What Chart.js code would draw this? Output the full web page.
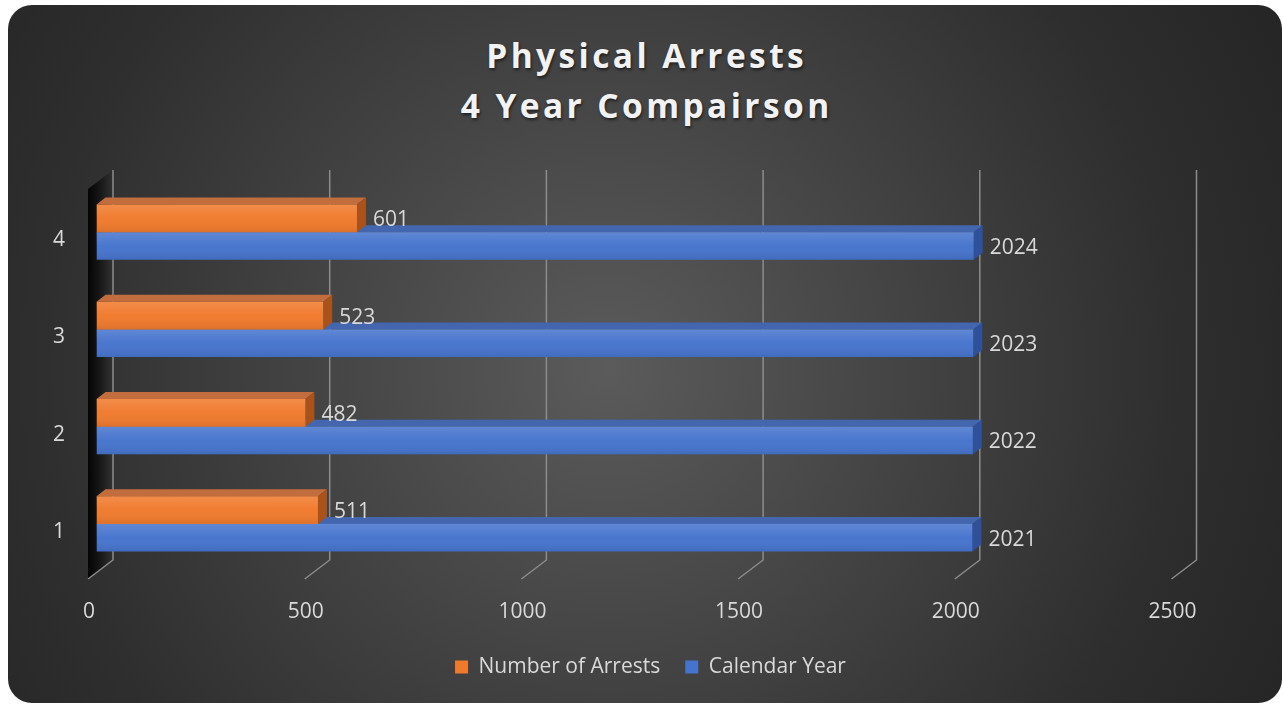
<!DOCTYPE html>
<html>
<head>
<meta charset="utf-8">
<title>Physical Arrests</title>
<script src="https://cdn.jsdelivr.net/npm/chart.js@4.4.1/dist/chart.umd.min.js"></script>
<style>
  html, body { margin: 0; padding: 0; background: #ffffff; }
  #card {
    position: absolute; left: 8px; top: 5px; width: 1274px; height: 698px;
    border-radius: 24px; overflow: hidden;
    background: radial-gradient(circle farthest-corner at 47% 52%, #5b5b5b 0%, #434343 40%, #2e2e2e 75%, #252525 100%);
  }
  #title {
    position: absolute; left: 0; top: 25px; width: 100%;
    text-align: center; padding-left: 3.4px; box-sizing: border-box;
    font-family: 'Open Sans', sans-serif; font-weight: 700; font-size: 33.5px;
    letter-spacing: 3.4px; line-height: 50px; color: #f2f2f2;
    text-shadow: 1px 2px 3px rgba(0, 0, 0, 0.55);
  }
  #chart { position: absolute; left: 0; top: 0; }
</style>
</head>
<body>
<div id="card">
  <div id="title">Physical Arrests<br>4 Year Compairson</div>
  <canvas id="chart" width="1274" height="698"></canvas>
</div>
<script>
// values
const categories = ['1', '2', '3', '4'];
const arrests = [511, 482, 523, 601];
const calendarYears = [2021, 2022, 2023, 2024];
const xMin = 0;
const xMax = 2500;
const xStep = 500;

const seriesNames = ['Number of Arrests', 'Calendar Year'];

// 3d look
const DX = 9, DY = 7;
const faceColors = [
    { top: '#c26d3e', side: '#a9521b' },
    { top: '#4466ae', side: '#2f509b' },
];
const textColor = '#d9d9d9';
const fontSize = 21;

Chart.defaults.font.family = "'Open Sans', sans-serif";
Chart.defaults.font.size = fontSize;
Chart.defaults.color = textColor;

// back wall, grid lines and bar tops/sides, drawn under the bar fronts
const depthPlugin = {
    id: 'depth',
    beforeDatasetsDraw(chart) {
        const { ctx, chartArea: area, scales } = chart;
        const x = scales.x;
        const left = x.getPixelForValue(xMin);
        const backTop = area.top - 13.5;
        const backBottom = area.bottom - 12.5;
        const frontBottom = area.bottom + 6.5;

        ctx.save();
        // left wall
        const wall = ctx.createLinearGradient(left - 8.5, 0, left + 16.5, 0);
        wall.addColorStop(0, 'rgba(0,0,0,0.9)');
        wall.addColorStop(0.45, 'rgba(0,0,0,0.55)');
        wall.addColorStop(1, 'rgba(0,0,0,0)');
        ctx.fillStyle = wall;
        ctx.beginPath();
        ctx.moveTo(left - 8.5, backTop + 19);
        ctx.lineTo(left + 16.5, backTop);
        ctx.lineTo(left + 16.5, backBottom);
        ctx.lineTo(left - 8.5, frontBottom);
        ctx.closePath();
        ctx.fill();

        // grid lines on the back wall and floor
        ctx.strokeStyle = '#8c8c8c';
        ctx.lineWidth = 1.5;
        x.ticks.forEach(t => {
            const px = x.getPixelForValue(t.value);
            ctx.beginPath();
            ctx.moveTo(px + 16.5, backTop);
            ctx.lineTo(px + 16.5, backBottom);
            ctx.lineTo(px - 8.5, frontBottom);
            ctx.stroke();
        });

        // tops and sides, blue first so the orange sits over it
        for (let d = chart.data.datasets.length - 1; d >= 0; d--) {
            const meta = chart.getDatasetMeta(d);
            meta.data.forEach(el => {
                const { x: end, y, base, height } = el.getProps(['x', 'y', 'base', 'height'], true);
                const t = y - height / 2, b = y + height / 2;
                ctx.fillStyle = faceColors[d].top;
                ctx.beginPath();
                ctx.moveTo(base, t);
                ctx.lineTo(base + DX, t - DY);
                ctx.lineTo(end + DX, t - DY);
                ctx.lineTo(end, t);
                ctx.closePath();
                ctx.fill();
                ctx.fillStyle = faceColors[d].side;
                ctx.beginPath();
                ctx.moveTo(end, t);
                ctx.lineTo(end + DX, t - DY);
                ctx.lineTo(end + DX, b - DY);
                ctx.lineTo(end, b);
                ctx.closePath();
                ctx.fill();
            });
        }
        ctx.restore();
    },
    afterDatasetsDraw(chart) {
        const { ctx } = chart;
        ctx.save();
        chart.data.datasets.forEach((ds, d) => {
            const meta = chart.getDatasetMeta(d);
            meta.data.forEach((el, i) => {
                const { x: end, y, base, height } = el.getProps(['x', 'y', 'base', 'height'], true);
                const t = y - height / 2;
                // soft shine on the front face
                const g = ctx.createLinearGradient(0, t, 0, t + height);
                g.addColorStop(0, 'rgba(255,255,255,0.14)');
                g.addColorStop(0.5, 'rgba(255,255,255,0.02)');
                g.addColorStop(1, 'rgba(0,0,0,0.08)');
                ctx.fillStyle = g;
                ctx.fillRect(base, t, end - base, height);
                // value label
                ctx.fillStyle = textColor;
                ctx.font = fontSize + "px 'Open Sans', sans-serif";
                ctx.textAlign = 'left';
                ctx.textBaseline = 'middle';
                ctx.fillText(String(ds.data[i]), end + 16, y + 2);
            });
        });
        ctx.restore();
    }
};

new Chart(document.getElementById('chart'), {
    type: 'bar',
    data: {
        labels: categories,
        datasets: [
            {
                label: seriesNames[0],
                data: arrests,
                backgroundColor: '#f07a2c',
                borderWidth: 0,
                barPercentage: 1,
                categoryPercentage: 0.5656,
            },
            {
                label: seriesNames[1],
                data: calendarYears,
                backgroundColor: '#4674cd',
                borderWidth: 0,
                barPercentage: 1,
                categoryPercentage: 0.5656,
            },
        ],
    },
    options: {
        indexAxis: 'y',
        responsive: false,
        animation: false,
        layout: {
            padding: { top: 178.5, left: 11, right: 0, bottom: 15.5 },
        },
        plugins: {
            title: { display: false },
            tooltip: { enabled: false },
            legend: {
                display: true,
                position: 'bottom',
                labels: {
                    boxWidth: 13,
                    boxHeight: 13,
                    padding: 25,
                    color: textColor,
                    font: { size: fontSize },
                },
            },
        },
        scales: {
            x: {
                min: xMin,
                max: xMax,
                grid: { display: false, drawTicks: false },
                border: { display: false },
                ticks: {
                    stepSize: xStep,
                    format: { useGrouping: false },
                    padding: 26.5,
                    labelOffset: -7.5,
                    color: textColor,
                    font: { size: fontSize },
                },
                afterFit(scale) { scale.height = 59; },
            },
            y: {
                reverse: true,
                grid: { display: false, drawTicks: false },
                border: { display: false },
                ticks: {
                    padding: 31.5,
                    labelOffset: 8,
                    color: textColor,
                    font: { size: fontSize },
                },
                afterFit(scale) { scale.width = 77.5; },
            },
            yRight: {
                axis: 'y',
                type: 'category',
                position: 'right',
                grid: { display: false, drawTicks: false },
                border: { display: false },
                ticks: { display: false },
                afterFit(scale) { scale.width = 102; },
            },
        },
    },
    plugins: [depthPlugin],
});
</script>
</body>
</html>
